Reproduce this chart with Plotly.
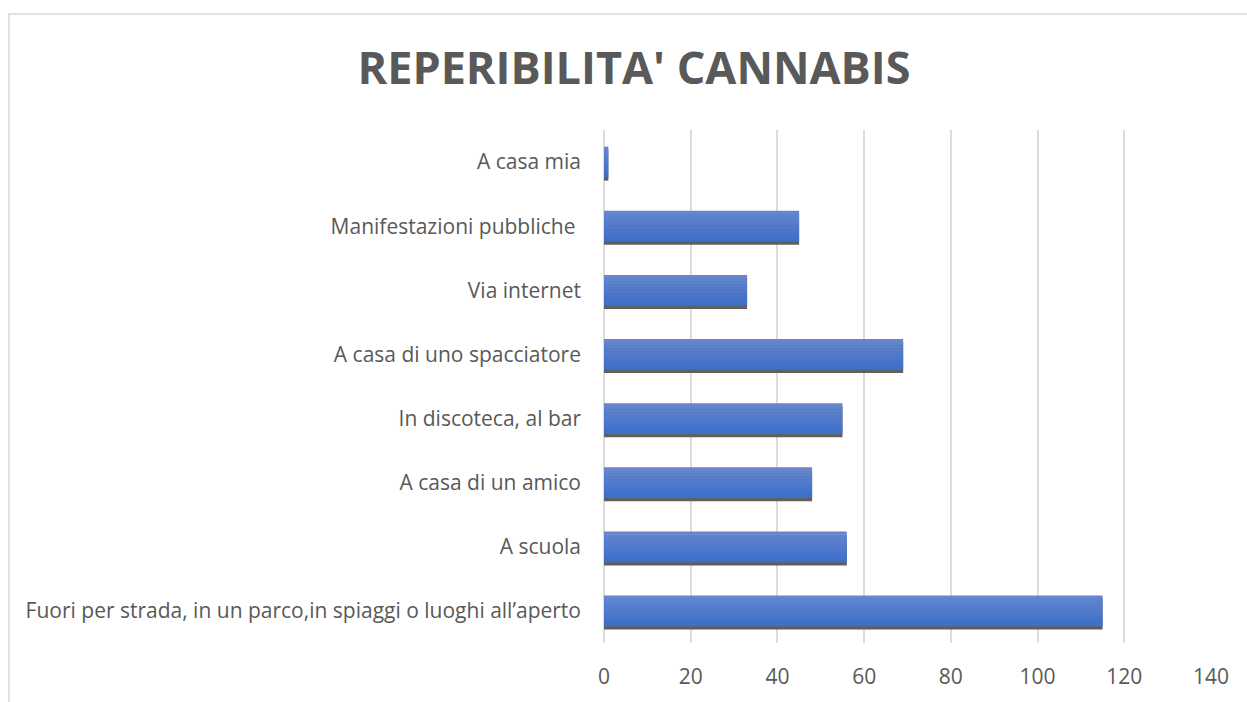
import plotly.graph_objects as go

categories = [
    "A casa mia",
    "Manifestazioni pubbliche ",
    "Via internet",
    "A casa di uno spacciatore",
    "In discoteca, al bar",
    "A casa di un amico",
    "A scuola",
    "Fuori per strada, in un parco,in spiaggi o luoghi all\u2019aperto",
]
values = [1, 45, 33, 69, 55, 48, 56, 115]
x_ticks = [0, 20, 40, 60, 80, 100, 120, 140]
title_text = "REPERIBILITA' CANNABIS"

W, H = 1247, 702
L, R, T, B = 603.5, 36, 130, 55
pw = W - L - R
ph = H - T - B

bar_w = 0.48
shadow_shift = 0.05
fig = go.Figure()

# shadow
fig.add_trace(go.Bar(
    y=categories, x=values, orientation="h",
    offset=-bar_w / 2 + shadow_shift, width=bar_w,
    marker=dict(color="#5f5f5f", line=dict(width=0)),
    hoverinfo="skip", showlegend=False,
))

# gradient strips
N = 10
c_top = (0x64, 0x86, 0xce)
c_bot = (0x3d, 0x6f, 0xcc)
for k in range(N):
    t = k / (N - 1)
    col = tuple(round(a + (b - a) * t) for a, b in zip(c_top, c_bot))
    fig.add_trace(go.Bar(
        y=categories, x=values, orientation="h",
        offset=-bar_w / 2 + k * bar_w / N,
        width=bar_w / N + (0.004 if k < N - 1 else 0),
        marker=dict(color="rgb(%d,%d,%d)" % col, line=dict(width=0)),
        hoverinfo="x+y" if k == 0 else "skip", showlegend=False,
    ))

fig.update_layout(
    width=W, height=H,
    margin=dict(l=L, r=R, t=T, b=B, pad=0),
    barmode="overlay",
    paper_bgcolor="white", plot_bgcolor="white",
    font=dict(family="Open Sans", color="#595959", size=20),
    title=dict(text="<b>" + title_text + "</b>", x=(634) / W, xanchor="center",
               y=1 - 68 / H, yanchor="middle",
               font=dict(family="Open Sans", size=45, color="#595959")),
    xaxis=dict(range=[0, 140], tickvals=x_ticks, showgrid=True,
               gridcolor="#dcdcdc", gridwidth=2, zeroline=True,
               zerolinecolor="#dcdcdc", zerolinewidth=2, showline=False,
               ticklabelstandoff=19, tickfont=dict(size=21, color="#595959")),
    yaxis=dict(autorange="reversed", showgrid=False, showline=False,
               ticks="", ticklabelstandoff=22,
               tickfont=dict(size=21, color="#595959")),
    shapes=[dict(type="rect", xref="paper", yref="paper",
                 x0=(8 - L) / pw, x1=(1260 - L) / pw,
                 y0=(H - B - 715) / ph, y1=(H - B - 13) / ph,
                 line=dict(color="#d9d9d9", width=1.5), layer="below")],
)

fig.write_html("out.html")
